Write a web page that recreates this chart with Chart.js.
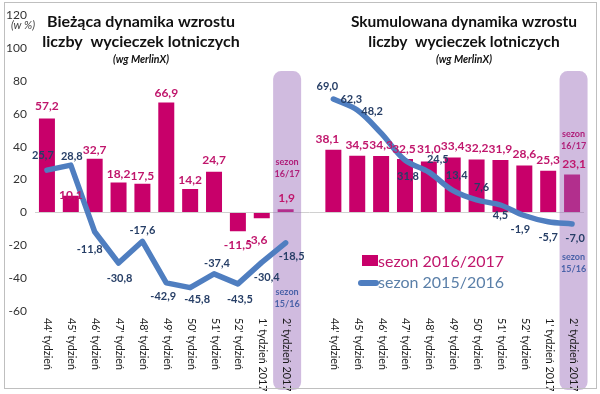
<!DOCTYPE html>
<html><head><meta charset="utf-8">
<script src="https://cdn.jsdelivr.net/npm/chart.js@4"></script>
<style>html,body{margin:0;padding:0;background:#fff}#wrap{position:relative;width:600px;height:394px}</style>
</head><body><div id="wrap"><canvas id="c" width="600" height="394"></canvas></div>
<script>
const weeks = ["44' tydzień","45' tydzień","46' tydzień","47' tydzień","48' tydzień","49' tydzień","50' tydzień","51' tydzień","52' tydzień","1' tydzień 2017","2' tydzień 2017"];
const currentSeason = [57.2,10.1,32.7,18.2,17.5,66.9,14.2,24.7,-11.5,-3.6,1.9];
const currentPrev   = [25.7,28.8,-11.8,-30.8,-17.6,-42.9,-45.8,-37.4,-43.5,-30.4,-18.5];
const cumSeason     = [38.1,34.5,34.3,32.5,31.0,33.4,32.2,31.9,28.6,25.3,23.1];
const cumPrev       = [69.0,62.3,48.2,31.8,24.5,13.4,7.6,4.5,-1.9,-5.7,-7.0];
const yTicks = [-60,-40,-20,0,20,40,60,80,100,120];
const seriesNames = ["sezon 2016/2017","sezon 2015/2016"];
const titles = [["Bieżąca dynamika wzrostu","liczby  wycieczek lotniczych","(wg MerlinX)"],["Skumulowana dynamika wzrostu","liczby  wycieczek lotniczych","(wg MerlinX)"]];

// label placement (pixel offsets from point), styling only
const barLblOff = [[0,-12],[0,-1],[0,-9],[0,-8],[0,-8],[0,-9],[0,-9],[0,-12],[0,14],[-5,22],[1,-11],
                   null,
                   [-6,-11],[0,-11],[0,-11],[-1,-10],[0,-12],[0,-11],[0,-11],[0,-11],[0,-11],[0,-11],[2,-10]];
const leftLineOff = [[-4,-15],[1,-9],[-5,18],[1,15],[0,-11],[-3,14],[7,12],[3,-10],[2,16],[5,15],[6,14]];
const rightLineOff = [[-6,-13],[-6,-11],[-9,-22],[3,16],[9,-13],[4,-15],[5,-12],[0,10],[-4,14],[0,16],[3,15]];

const N = weeks.length;
const labels = [...weeks, '', ...weeks];
const barData = [...currentSeason, null, ...cumSeason];
const lineLeft = [...currentPrev, ...Array(N+1).fill(null)];
const lineRight = [...Array(N+1).fill(null), ...cumPrev];

const MAG = '#C8006A', BLUE = '#4F7EC0', NAVY = '#263E66';
const FONT = 'Lato, "Liberation Sans", sans-serif';
const barColors = barData.map((v,i)=> MAG);

const overlay = {
  id:'overlay',
  afterDatasetDraw(chart, args){
    if(args.index!==0) return;
    const ctx = chart.ctx, x = chart.scales.x, y = chart.scales.y;
    ctx.save();
    ctx.fillStyle = 'rgba(150,105,185,0.45)';
    [N-1, 2*N].forEach(i=>{
      const cx = x.getPixelForValue(i)+1.5, w = 28;
      const top = y.getPixelForValue(86), bot = chart.chartArea.bottom+79;
      ctx.beginPath();
      ctx.roundRect(cx-w/2, top, w, bot-top, 8);
      ctx.fill();
    });
    ctx.restore();
  },
  afterDatasetsDraw(chart){
    const ctx = chart.ctx, x = chart.scales.x, y = chart.scales.y;
    ctx.save();
    ctx.textAlign='center'; ctx.textBaseline='middle';
    // bar labels
    ctx.font = 'bold 12px '+FONT; ctx.fillStyle = '#C0166C';
    barData.forEach((v,i)=>{
      if(v==null) return;
      const o = barLblOff[i];
      const py = y.getPixelForValue(v);
      ctx.fillText(v.toFixed(1).replace('.',','), x.getPixelForValue(i)+o[0], py+o[1]);
    });
    // line labels
    ctx.font = 'bold 11px '+FONT; ctx.fillStyle = NAVY;
    currentPrev.forEach((v,i)=>{
      const o = leftLineOff[i];
      ctx.fillText(v.toFixed(1).replace('.',','), x.getPixelForValue(i)+o[0], y.getPixelForValue(v)+o[1]);
    });
    cumPrev.forEach((v,i)=>{
      const o = rightLineOff[i];
      ctx.fillText(v.toFixed(1).replace('.',','), x.getPixelForValue(i+N+1)+o[0], y.getPixelForValue(v)+o[1]);
    });
    // band texts
    ctx.font = 'bold 9px '+FONT;
    const bandTxt = (i, v1, v2)=>{
      const cx = x.getPixelForValue(i)+1.5;
      ctx.fillStyle = '#B0207A';
      ctx.fillText('sezon', cx, y.getPixelForValue(v1)); ctx.fillText('16/17', cx, y.getPixelForValue(v1)+12);
      ctx.fillStyle = '#4A62A8';
      ctx.fillText('sezon', cx, y.getPixelForValue(v2)); ctx.fillText('15/16', cx, y.getPixelForValue(v2)+12);
    };
    bandTxt(N-1, 30.5, -48.5);
    bandTxt(2*N, 47.5, -27);
    // x labels rotated clockwise
    ctx.font = '10.8px '+FONT; ctx.fillStyle = '#1a1a1a';
    ctx.textAlign='left';
    labels.forEach((l,i)=>{
      if(!l) return;
      ctx.save();
      ctx.translate(x.getPixelForValue(i)+1, chart.chartArea.bottom+7);
      ctx.rotate(Math.PI/2);
      ctx.fillText(l, 0, 0);
      ctx.restore();
    });
    // titles
    ctx.textAlign='center'; ctx.fillStyle='#111';
    const tc = [141, 464];
    const tsz = [16, 15.5];
    titles.forEach((t,k)=>{
      ctx.font = 'bold '+tsz[k]+'px '+FONT;
      ctx.fillText(t[0], tc[k], 22);
      ctx.fillText(t[1], tc[k], 42);
      ctx.font = 'italic bold 10.5px '+FONT;
      ctx.fillText(t[2], tc[k], 60);
    });
    ctx.font = 'italic 11px '+FONT; ctx.fillStyle='#404040';
    ctx.fillText('(w %)', 23, 25);
    // legend
    ctx.fillStyle = MAG; ctx.fillRect(362, 255, 16, 11);
    ctx.textAlign='left';
    ctx.font = '16px '+FONT; ctx.fillStyle='#C0166C';
    ctx.fillText(seriesNames[0], 378, 262);
    ctx.strokeStyle = BLUE; ctx.lineWidth = 6; ctx.lineCap='round';
    ctx.beginPath(); ctx.moveTo(361, 283); ctx.lineTo(376, 283); ctx.stroke();
    ctx.fillStyle='#5A7FA8';
    ctx.fillText(seriesNames[1], 378, 283);
    // frame
    ctx.strokeStyle='#BFBFBF'; ctx.lineWidth=1;
    ctx.strokeRect(4.5, 2.5, 592, 386);
    ctx.restore();
  }
};

new Chart(document.getElementById('c'), {
  type:'bar',
  data:{ labels, datasets:[
    { type:'bar', data:barData, backgroundColor:barColors, categoryPercentage:1, barPercentage:0.67, order:2 },
    { type:'line', data:lineLeft, borderColor:BLUE, borderWidth:5.5, pointRadius:0, tension:0, borderCapStyle:'round', borderJoinStyle:'round', spanGaps:false, order:1 },
    { type:'line', data:lineRight, borderColor:BLUE, borderWidth:5.5, pointRadius:0, tension:0.35, borderCapStyle:'round', borderJoinStyle:'round', spanGaps:false, order:0 }
  ]},
  options:{
    responsive:false, animation:false,
    layout:{ padding:{ left:0, right:16, top:11, bottom:75 } },
    plugins:{ legend:{display:false}, tooltip:{enabled:false} },
    scales:{
      x:{ ticks:{display:false}, grid:{display:false}, border:{display:false} },
      y:{ min:-60, max:120, afterBuildTicks(s){ s.ticks = yTicks.map(v=>({value:v})); },
          afterFit(s){ s.width = 35; },
          ticks:{ padding:8, color:'#333', font:{family:FONT, size:12} },
          grid:{ drawTicks:false, color:(c)=> c.tick && c.tick.value===0 ? '#D0D0D0' : 'rgba(0,0,0,0)' },
          border:{display:false} }
    }
  },
  plugins:[overlay]
});
</script></body></html>
